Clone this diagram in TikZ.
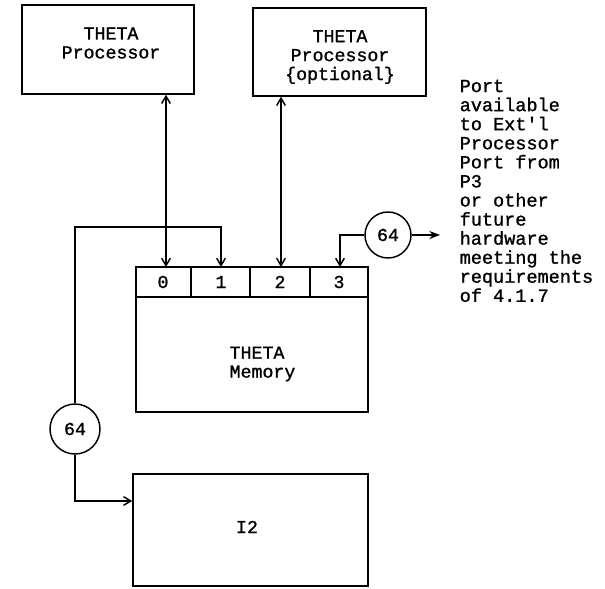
\documentclass[tikz,border=0pt]{standalone}
\usepackage{fontspec}
\setmainfont[FakeBold=1.2]{Liberation Mono}
\usetikzlibrary{arrows.meta,fit}
\begin{document}
\begin{tikzpicture}[x=0.75pt,y=-0.75pt,
  line width=1.1pt,
  boxst/.style={draw,inner sep=0pt,fit={#1}},
  lbl/.style={font=\fontsize{13.7}{14.2}\selectfont,inner sep=0pt,align=center},
  circ/.style={draw,circle,inner sep=0pt,minimum size=#1,font=\fontsize{13.7}{14.2}\selectfont},
  barb/.style={-{Straight Barb[length=5.5pt,width=6.5pt]}},
  dbarb/.style={{Straight Barb[length=5.5pt,width=6.5pt]}-{Straight Barb[length=5.5pt,width=6.5pt]}},
  dart/.style={-{Stealth[length=8pt,width=6pt]}}]
\useasboundingbox (0,0) rectangle (605,588);
% boxes
\node[boxst={(22,5) (194,94)}] (p1) {};
\node[boxst={(253,8) (426,96)}] (p2) {};
\node[boxst={(136,267) (368,412)}] (mem) {};
\node[boxst={(136,267) (191,297)}] (c0) {};
\node[boxst={(191,267) (250,297)}] (c1) {};
\node[boxst={(250,267) (310,297)}] (c2) {};
\node[boxst={(310,267) (368,297)}] (c3) {};
\node[boxst={(133,474) (368,586)}] (i2) {};
% labels
\node[lbl] (t1) at (111,43) {THETA\\Processor};
\node[lbl] (t2) at (340,57) {THETA\\Processor\\\{optional\}};
\node[lbl] (tm) at (257,364) {THETA\\\ Memory};
\node[lbl] (l0) at (163,282) {0};
\node[lbl] (l1) at (221,282) {1};
\node[lbl] (l2) at (280,282) {2};
\node[lbl] (l3) at (339,282) {3};
\node[lbl] (li2) at (247,527) {I2};
\node[lbl,align=left,anchor=north west,font=\fontsize{13.9}{14.3}\selectfont] (port) at (459,79)
  {Port\\available\\to Ext\textquotesingle l\\Processor\\Port from\\P3\\or other\\future\\hardware\\meeting the\\requirements\\of 4.1.7};
% circles
\node[circ=50*0.75pt] (k1) at (75,429) {64};
\node[circ=46*0.75pt] (k2) at (388,235) {64};
% connector anchor points
\coordinate (a0) at (166,267);
\coordinate (a1) at (221,267);
\coordinate (a2) at (281,267);
\coordinate (a3) at (340,267);
\coordinate (e1) at (440,235);
% connectors
\draw[dbarb] (p1.south -| a0) -- (a0);
\draw[dbarb] (p2.south -| a2) -- (a2);
\draw[barb] (k1.north) -- (k1.north |- 0,227) -| (a1);
\draw[barb] (k1.south) |- (i2.west |- 0,501);
\draw[barb] (k2.west) -| (a3);
\draw[dart] (k2.east) -- (e1);
\end{tikzpicture}
\end{document}
